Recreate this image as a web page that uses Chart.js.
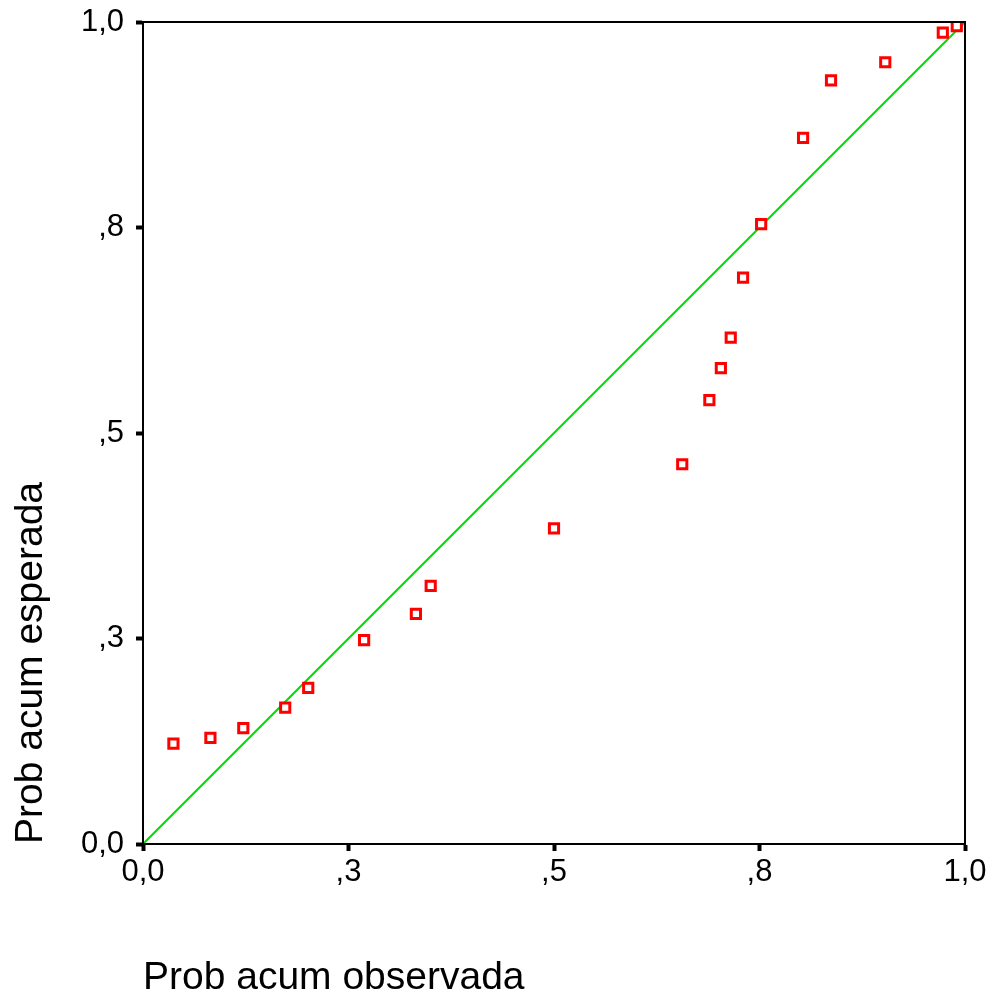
<!DOCTYPE html>
<html lang="es">
<head>
  <meta charset="UTF-8" />
  <title>Gráfico P-P</title>
  <script src="https://cdn.jsdelivr.net/npm/chart.js"></script>
  <style>
    html, body { margin: 0; padding: 0; background: #fff; }
    #wrap { width: 993px; height: 997px; }
  </style>
</head>
<body>
  <div id="wrap"><canvas id="ppChart" width="993" height="997"></canvas></div>
  <script>
    // probabilidad acumulada observada / esperada
    const observada = [0.037, 0.082, 0.122, 0.173, 0.201, 0.269, 0.332, 0.350, 0.500, 0.656,
                       0.689, 0.703, 0.715, 0.730, 0.752, 0.803, 0.837, 0.903, 0.973, 0.990];
    const esperada  = [0.122, 0.129, 0.141, 0.166, 0.190, 0.248, 0.280, 0.314, 0.384, 0.462,
                       0.540, 0.579, 0.616, 0.689, 0.754, 0.859, 0.929, 0.951, 0.987, 0.995];
    const tickValues = [0, 0.25, 0.5, 0.75, 1];
    const tickLabels = ["0,0", ",3", ",5", ",8", "1,0"];

    const puntos = observada.map((x, i) => ({ x: x, y: esperada[i] }));

    // marco alrededor del area del grafico
    const frame = {
      id: "frame",
      afterDatasetsDraw(chart) {
        const a = chart.chartArea;
        const ctx = chart.ctx;
        ctx.save();
        ctx.strokeStyle = "#000";
        ctx.lineWidth = 2;
        ctx.strokeRect(a.left, a.top, a.right - a.left, a.bottom - a.top);
        ctx.restore();
      }
    };

    const labelFor = v => {
      const i = tickValues.findIndex(t => Math.abs(t - v) < 1e-6);
      return i >= 0 ? tickLabels[i] : "";
    };

    new Chart(document.getElementById("ppChart"), {
      type: "scatter",
      data: {
        datasets: [
          {
            label: "observada",
            data: puntos,
            pointStyle: "rect",
            radius: 6.5,
            borderColor: "#ff0000",
            backgroundColor: "#ffffff",
            borderWidth: 3,
            order: 1
          },
          {
            label: "diagonal",
            type: "line",
            data: [{ x: 0, y: 0 }, { x: 1, y: 1 }],
            borderColor: "#00dd00",
            borderWidth: 2,
            pointRadius: 0,
            order: 2
          }
        ]
      },
      plugins: [frame],
      options: {
        responsive: false,
        animation: false,
        layout: { padding: { top: 22, right: 28, left: 0, bottom: 0 } },
        plugins: { legend: { display: false }, tooltip: { enabled: false } },
        scales: {
          x: {
            type: "linear",
            min: 0,
            max: 1,
            afterBuildTicks: s => { s.ticks = tickValues.map(v => ({ value: v })); },
            afterFit: s => { s.height = 153; s.paddingLeft = 0; s.paddingRight = 0; },
            grid: { drawOnChartArea: false, drawTicks: true, tickLength: 7, tickWidth: 4, tickColor: "#000" },
            border: { display: true, color: "#000", width: 2 },
            ticks: {
              color: "#000",
              padding: 3,
              maxRotation: 0,
              font: { family: "Liberation Sans, Arial", size: 31 },
              callback: v => labelFor(v)
            },
            title: {
              display: true,
              text: "Prob acum observada",
              align: "start",
              color: "#000",
              padding: { top: 0, bottom: -5 },
              font: { family: "Liberation Sans, Arial", size: 39 }
            }
          },
          y: {
            type: "linear",
            min: 0,
            max: 1,
            afterBuildTicks: s => { s.ticks = tickValues.map(v => ({ value: v })); },
            afterFit: s => { s.width = 143; s.paddingTop = 0; s.paddingBottom = 0; },
            grid: { drawOnChartArea: false, drawTicks: true, tickLength: 7, tickWidth: 4, tickColor: "#000" },
            border: { display: true, color: "#000", width: 2 },
            ticks: {
              color: "#000",
              padding: 12,
              font: { family: "Liberation Sans, Arial", size: 31 },
              callback: v => labelFor(v)
            },
            title: {
              display: true,
              text: "Prob acum esperada",
              align: "start",
              color: "#000",
              padding: { top: 8, bottom: 0 },
              font: { family: "Liberation Sans, Arial", size: 39 }
            }
          }
        }
      }
    });
  </script>
</body>
</html>
